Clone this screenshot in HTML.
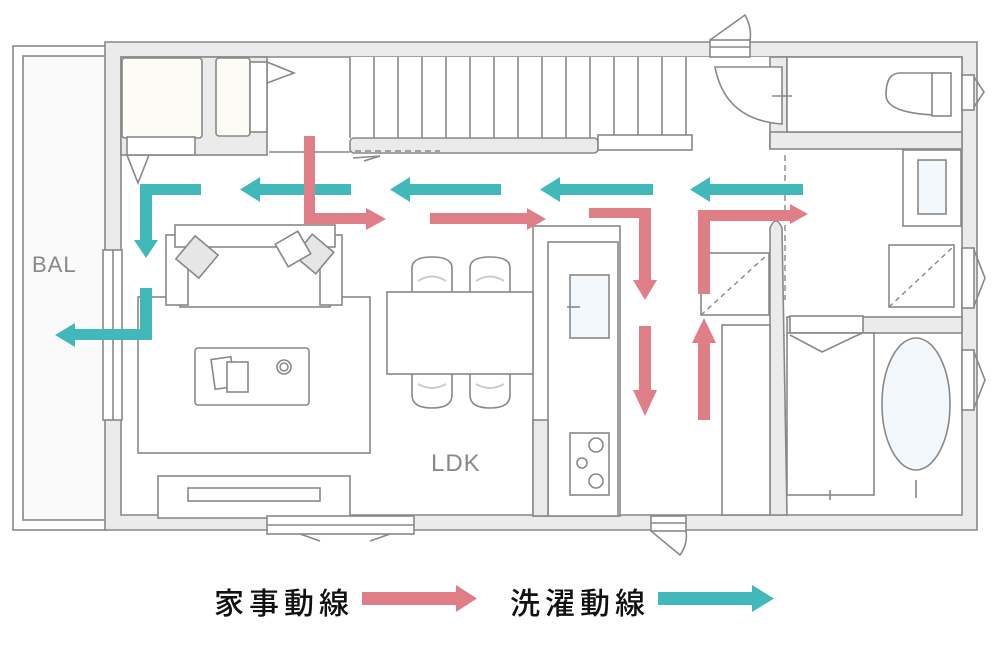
<!DOCTYPE html>
<html><head><meta charset="utf-8"><style>
html,body{margin:0;padding:0;background:#fff;width:1000px;height:650px;overflow:hidden}
svg{display:block}
.l{fill:none;stroke:#888;stroke-width:1.6}
.w{fill:#ebebeb;stroke:#888;stroke-width:1.6}
.f{fill:#fff;stroke:#888;stroke-width:1.6}
</style></head><body>
<svg width="1000" height="650" viewBox="0 0 1000 650" xmlns="http://www.w3.org/2000/svg">
<rect x="13" y="46" width="94" height="484" class="f"/>
<rect x="23" y="56" width="84" height="464" fill="#fafafa" stroke="#888" stroke-width="1.6"/>
<text x="32" y="272" font-family="Liberation Sans, sans-serif" font-size="22" fill="#888" style="letter-spacing:1px">BAL</text>
<path d="M105 42 H977 V530 H105 Z M121 57 V515 H962 V57 Z" fill="#ebebeb" fill-rule="evenodd" stroke="#888" stroke-width="1.6"/>
<rect x="121" y="57" width="146" height="98" class="w"/>
<rect x="122" y="58" width="80" height="80" fill="#fcfcf4" stroke="#888" stroke-width="1.6" rx="3"/>
<rect x="216" y="58" width="34" height="78" fill="#fcfcf4" stroke="#888" stroke-width="1.6" rx="3"/>
<rect x="250" y="62" width="17" height="70" class="f"/>
<path d="M267 62 L294 73 L267 83" class="l"/>
<rect x="127" y="137" width="68" height="18" class="f"/>
<path d="M127 155 L138 183 L149 155" class="l"/>
<line x1="269" y1="152" x2="350" y2="152" class="l"/>
<rect x="350" y="57" width="420" height="81" fill="#fff" stroke="none"/>
<g class="l">
<line x1="350" y1="57" x2="350" y2="138"/><line x1="374" y1="57" x2="374" y2="138"/><line x1="398" y1="57" x2="398" y2="138"/><line x1="422" y1="57" x2="422" y2="138"/><line x1="446" y1="57" x2="446" y2="138"/><line x1="470" y1="57" x2="470" y2="138"/><line x1="494" y1="57" x2="494" y2="138"/><line x1="518" y1="57" x2="518" y2="138"/><line x1="542" y1="57" x2="542" y2="138"/><line x1="566" y1="57" x2="566" y2="138"/><line x1="590" y1="57" x2="590" y2="138"/><line x1="614" y1="57" x2="614" y2="138"/><line x1="638" y1="57" x2="638" y2="138"/><line x1="662" y1="57" x2="662" y2="138"/><line x1="686" y1="57" x2="686" y2="138"/>
</g>
<rect x="350" y="138" width="248" height="15" class="w" rx="4"/>
<rect x="598" y="135" width="94" height="15" class="f"/>
<line x1="355" y1="151" x2="440" y2="151" stroke="#888" stroke-width="1.4" stroke-dasharray="6,4"/>
<path d="M353 158 L380 156 L364 161" class="l"/>
<rect x="710" y="40" width="40" height="17" class="f"/>
<line x1="710" y1="47" x2="750" y2="47" class="l"/>
<path d="M710 40 L745 15 Q752 28 750 40" class="l"/>
<rect x="770" y="57" width="17" height="91" class="w"/>
<rect x="770" y="132" width="192" height="17" class="w"/>
<rect x="787" y="57" width="175" height="75" class="f" stroke="none"/>
<path d="M715 67 H782 V124 Q725 120 715 67 Z" class="f"/>
<line x1="772" y1="96" x2="792" y2="96" class="l"/>
<path d="M935 73 H900 Q886 73 886 95 Q886 113 935 115" class="f"/>
<rect x="932" y="73" width="19" height="43" class="f"/>
<rect x="962" y="75" width="12" height="35" class="f"/>
<path d="M974 77 L984 92 L974 107" class="l"/>
<rect x="903" y="150" width="58" height="76" class="f"/>
<rect x="918" y="160" width="28" height="54" fill="#f3f8fc" stroke="#888" stroke-width="1.6"/>
<rect x="889" y="245" width="65" height="62" class="f"/>
<line x1="889" y1="307" x2="953" y2="247" stroke="#888" stroke-width="1.4" stroke-dasharray="5,4"/>
<rect x="962" y="248" width="12" height="60" class="f"/>
<path d="M974 250 L985 278 L974 306" class="l"/>
<rect x="962" y="350" width="12" height="60" class="f"/>
<path d="M974 352 L985 380 L974 408" class="l"/>
<rect x="787" y="317" width="175" height="16" class="w"/>
<rect x="790" y="316" width="73" height="17" class="f"/>
<path d="M770 228 Q776 214 782 228 L787 515 H770 Z" class="w"/>
<line x1="785" y1="155" x2="785" y2="300" stroke="#888" stroke-width="1.4" stroke-dasharray="6,4"/>
<rect x="787" y="333" width="87" height="162" class="f"/>
<path d="M790 335 L822 352 L862 333" class="l"/>
<line x1="830" y1="490" x2="830" y2="500" class="l"/>
<ellipse cx="916" cy="404" rx="34" ry="66" fill="#f3f8fc" stroke="#888" stroke-width="1.6"/>
<line x1="916" y1="480" x2="916" y2="498" class="l"/>
<rect x="701" y="253" width="68" height="62" class="f"/>
<line x1="701" y1="315" x2="767" y2="255" stroke="#888" stroke-width="1.4" stroke-dasharray="5,4"/>
<rect x="722" y="325" width="48" height="190" class="f"/>
<rect x="533" y="226" width="87" height="290" class="f"/>
<rect x="548" y="242" width="70" height="274" class="f"/>
<rect x="533" y="420" width="15" height="96" class="w"/>
<rect x="570" y="275" width="39" height="63" fill="#f3f8fc" stroke="#888" stroke-width="1.6"/>
<line x1="567" y1="307" x2="580" y2="307" class="l"/>
<rect x="570" y="433" width="39" height="62" class="f"/>
<circle cx="596" cy="445" r="7" class="l"/><circle cx="582" cy="463" r="5" class="l"/><circle cx="596" cy="481" r="7" class="l"/>
<rect x="387" y="292" width="146" height="82" class="f"/>
<g class="l">
<path d="M412 292 V268 Q412 257 432 257 Q452 257 452 268 V292"/>
<path d="M470 292 V268 Q470 257 490 257 Q510 257 510 268 V292"/>
<path d="M412 374 V395 Q412 408 432 408 Q452 408 452 395 V374"/>
<path d="M470 374 V395 Q470 408 490 408 Q510 408 510 395 V374"/>
</g>
<path d="M418 281 Q432 272 446 281 M476 281 Q490 272 504 281 M418 384 Q432 392 446 384 M476 384 Q490 392 504 384" stroke="#ccc" stroke-width="2" fill="none"/>
<rect x="138" y="297" width="232" height="156" class="f"/>
<rect x="180" y="240" width="150" height="67" class="f"/>
<rect x="166" y="235" width="22" height="70" class="f"/>
<rect x="320" y="235" width="22" height="70" class="f"/>
<rect x="175" y="225" width="160" height="22" class="f"/>
<rect x="182" y="242" width="30" height="30" fill="#e6e6e6" stroke="#888" stroke-width="1.6" transform="rotate(40 197 257)"/>
<rect x="300" y="240" width="28" height="28" fill="#e6e6e6" stroke="#888" stroke-width="1.6" transform="rotate(40 314 254)"/>
<rect x="280" y="236" width="26" height="26" class="f" transform="rotate(-30 293 249)"/>
<rect x="195" y="348" width="114" height="57" class="f" rx="3"/>
<rect x="213" y="358" width="20" height="30" class="f" transform="rotate(-8 223 373)"/>
<rect x="227" y="362" width="21" height="30" class="f"/>
<circle cx="284" cy="367" r="7" class="l"/><circle cx="284" cy="367" r="4" class="l"/>
<rect x="158" y="476" width="192" height="42" class="f"/>
<rect x="188" y="488" width="132" height="13" class="f"/>
<rect x="103" y="250" width="19" height="170" class="f"/>
<line x1="113" y1="250" x2="113" y2="420" class="l"/>
<rect x="267" y="516" width="147" height="18" class="f"/>
<line x1="267" y1="525" x2="414" y2="525" class="l"/>
<path d="M300 534 L320 541 M390 534 L370 541" class="l"/>
<rect x="651" y="516" width="35" height="15" class="f"/>
<line x1="651" y1="523" x2="686" y2="523" class="l"/>
<path d="M651 531 L680 555 Q688 544 686 531" class="l"/>
<text x="431" y="471" font-family="Liberation Sans, sans-serif" font-size="24" fill="#888" style="letter-spacing:1px">LDK</text>
<g fill="#41b9bb">
<path d="M201 184 V195 H152 V240 H158 L146 258 L134 240 H140 V184 Z"/>
<path d="M351 184 V195 H260 V202 L240 189.5 L260 177 V184 Z"/>
<path d="M501 184 V195 H410 V202 L390 189.5 L410 177 V184 Z"/>
<path d="M653 184 V195 H560 V202 L540 189.5 L560 177 V184 Z"/>
<path d="M803 184 V195 H710 V202 L690 189.5 L710 177 V184 Z"/>
<path d="M140 288 H152 V340 H75 V347 L55 335 L75 323 V329 H140 Z"/>
</g>
<g fill="#e07e88">
<path d="M304 136 H315 V213 H366 V208 L386 219 L366 230 V224 H304 Z"/>
<path d="M430 213 H527 V208 L546 219 L527 230 V224 H430 Z"/>
<path d="M589 208 H651 V280 H657 L645 300 L633 280 H639 V218 H589 Z"/>
<path d="M639 326 H651 V390 H657 L645 416 L633 390 H639 Z"/>
<path d="M698 420 V343 H692 L704 318 L716 343 H710 V420 Z"/>
<path d="M698 294 V210 H790 V204 L808 214 L790 224 V221 H710 V294 Z"/>
</g>
<text x="214" y="614" font-family="Liberation Sans, 'Noto Sans CJK JP', sans-serif" font-size="30" font-weight="500" fill="#111" style="letter-spacing:5px">家事動線</text>
<path d="M362 592 H456 V585 L477 598.5 L456 612 V605 H362 Z" fill="#e07e88"/>
<text x="510" y="614" font-family="Liberation Sans, 'Noto Sans CJK JP', sans-serif" font-size="30" font-weight="500" fill="#111" style="letter-spacing:5px">洗濯動線</text>
<path d="M658 592 H752 V585 L774 598.5 L752 612 V605 H658 Z" fill="#41b9bb"/>
</svg>
</body></html>
